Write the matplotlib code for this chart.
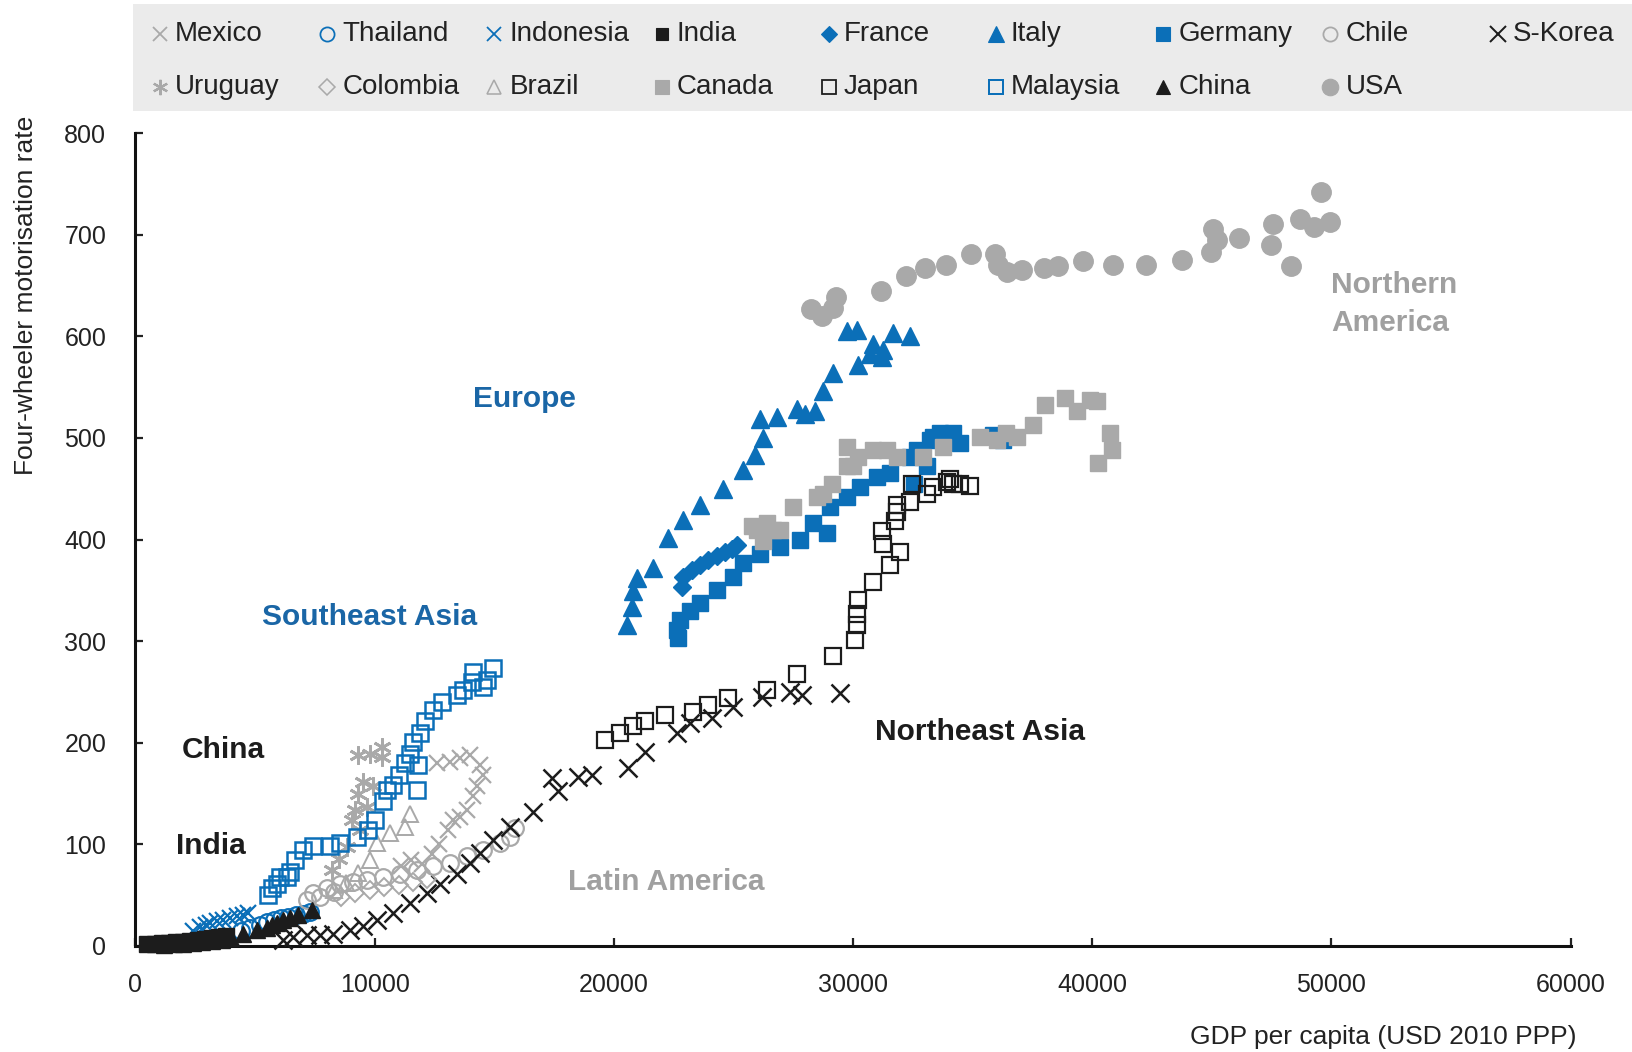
import matplotlib
matplotlib.use("Agg")
import matplotlib.pyplot as plt
from matplotlib import font_manager

# ---------------------------------------------------------------- data
mexico_x = [12600, 13150, 13570, 13990, 14410, 14550, 14270, 14130, 13850, 13570, 13290, 13080, 12700, 12400, 11970, 11540, 11100]
mexico_y = [180, 181, 185, 188, 178, 168, 157, 147, 134, 127, 124, 114, 100, 90, 80, 84, 78]

thailand_x = [4400, 4800, 5200, 5500, 5800, 6100, 6400, 6700, 7000, 7300]
thailand_y = [14, 17, 20, 23, 25, 27, 28, 30, 31, 33]

indonesia_x = [2400, 2700, 2950, 3120, 3400, 3680, 3960, 4240, 4510, 4720]
indonesia_y = [14, 18, 20, 22, 24, 25, 27, 29, 30, 32]

india_x = [500, 800, 1100, 1400, 1700, 2000, 2300, 2600, 2900, 3200, 3500, 3800]
india_y = [2, 2, 3, 3, 4, 4, 5, 6, 7, 8, 9, 10]

france_x = [22840, 22910, 23260, 23610, 23950, 24300, 24650, 24930, 25140]
france_y = [353, 363, 370, 375, 380, 384, 388, 391, 395]

italy_x = [20540, 20750, 20820, 20960, 21650, 22280, 22910, 23610, 24580, 25420, 25910, 26250, 26110, 26810,
           27650, 27990, 28410, 28760, 29180, 30220, 29740, 30160, 30850, 31270, 31690, 32390, 30710, 31200]
italy_y = [316, 334, 349, 362, 372, 401, 419, 434, 450, 468, 483, 500, 519, 521,
           529, 524, 527, 546, 564, 572, 605, 606, 593, 587, 603, 600, 583, 580]

germany_x = [22630, 22700, 22770, 23200, 23610, 24300, 25000, 25420, 26110, 26950, 27790, 28340, 28900, 29040, 29740,
             30290, 30990, 31550, 32390, 32540, 32660, 33080, 33220, 33360, 33640, 34200, 34470, 35870, 36290]
germany_y = [311, 303, 321, 330, 337, 350, 363, 377, 386, 393, 400, 416, 406, 432, 442,
             452, 462, 465, 481, 455, 488, 472, 498, 501, 505, 505, 495, 503, 498]

chile_x = [7160, 7440, 7700, 8000, 8300, 8550, 9110, 9670, 10370, 11060, 11760, 12460, 13150, 13850, 14550, 15240, 15660, 15890]
chile_y = [45, 52, 48, 57, 53, 61, 63, 65, 68, 71, 75, 78, 81, 88, 94, 101, 107, 116]

skorea_x = [6180, 6600, 7160, 7720, 8270, 8970, 9530, 10090, 10780, 11480, 12180, 12740, 13430, 13990, 14410, 14960,
            15660, 16640, 17400, 17680, 18520, 19080, 20610, 21310, 22630, 23190, 24100, 25000, 26190, 27370, 27860, 29460]
skorea_y = [6, 9, 11, 11, 12, 15, 19, 25, 32, 42, 52, 61, 71, 81, 91, 104,
            117, 132, 165, 152, 166, 168, 175, 191, 209, 219, 224, 235, 245, 250, 247, 249]

uruguay_x = [8200, 8500, 8830, 9040, 9180, 9390, 9320, 9530, 9670, 9950, 9320, 9810, 10300, 10300]
uruguay_y = [75, 85, 97, 124, 134, 114, 149, 161, 137, 157, 188, 189, 196, 186]

colombia_x = [8600, 9200, 9800, 10400, 11000, 11600, 12200]
colombia_y = [48, 52, 55, 58, 60, 63, 66]

brazil_x = [8300, 8800, 9300, 9800, 10100, 10650, 11270, 11480]
brazil_y = [55, 62, 72, 84, 101, 111, 117, 130]

canada_x = [25770, 25980, 26250, 26400, 26670, 26950, 27510, 28490, 28760, 29110, 29740, 29740, 30020, 30225, 30850, 31410,
            31830, 32940, 33780, 35310, 36010, 36400, 36850, 37540, 38030, 38870, 39360, 39910, 40190, 40750, 40820, 40260]
canada_y = [413, 409, 399, 416, 409, 409, 432, 442, 445, 455, 472, 491, 472, 481, 488, 488,
            481, 481, 491, 501, 498, 505, 501, 513, 532, 539, 527, 537, 536, 505, 488, 475]

japan_x = [19634, 20260, 20820, 21310, 22140, 23330, 23950, 24790, 26390, 27650, 29180, 30090, 30160, 30160, 30220, 30850,
           31550, 31970, 31200, 31270, 31760, 31830, 31830, 32390, 32460, 33080, 33360, 33920, 34060, 34200, 34470, 34890]
japan_y = [203, 209, 216, 221, 227, 230, 237, 244, 252, 268, 285, 301, 316, 327, 340, 358,
           375, 388, 408, 396, 418, 427, 434, 437, 455, 445, 452, 457, 460, 455, 455, 453]

malaysia_x = [5560, 5700, 5910, 6050, 6330, 6460, 6670, 7020, 7440, 8140, 8550, 9250, 9740, 10020, 10370, 10510, 11760,
              10780, 11000, 11270, 11830, 11480, 11620, 11900, 12110, 12460, 12810, 13430, 13710, 14060, 14130, 14550, 14690, 14960]
malaysia_y = [50, 57, 61, 68, 68, 73, 84, 94, 98, 98, 101, 107, 114, 124, 142, 153, 153,
              158, 168, 180, 178, 189, 201, 209, 221, 232, 240, 247, 252, 260, 270, 255, 262, 273]

china_x = [1200, 1600, 2000, 2400, 2800, 3200, 3600, 4000, 4510, 5070, 5490, 5700, 5910, 6180, 6460, 6810, 7370]
china_y = [1, 2, 2, 3, 4, 5, 6, 8, 12, 15, 17, 20, 22, 25, 27, 30, 35]

usa_x = [28260, 28690, 29170, 29300, 31180, 32220, 33000, 33870, 34920, 35920, 36050, 36440, 37050, 37970, 38580,
         39620, 40890, 42230, 43760, 44980, 45060, 45200, 46150, 47460, 47550, 48330, 48680, 49290, 49550, 49940]
usa_y = [627, 620, 628, 639, 645, 659, 667, 670, 681, 681, 670, 663, 665, 667, 669,
         674, 670, 670, 675, 683, 706, 695, 697, 690, 711, 669, 716, 708, 742, 713]

x_ticks = [0, 10000, 20000, 30000, 40000, 50000, 60000]
y_ticks = [0, 100, 200, 300, 400, 500, 600, 700, 800]

region_labels = ["Europe", "Southeast Asia", "China", "India", "Latin America", "Northeast Asia", "Northern\nAmerica"]
region_x = [16280, 9800, 3660, 3140, 22200, 35310, 49980]
region_y = [538, 324, 193, 98, 63, 210, 632]

# ---------------------------------------------------------------- styles
BLUE = "#0b6fb8"
GREY = "#a9a9a9"
BLACK = "#1c1c1c"
LBLUE = "#1a66a6"
LGREY = "#a0a0a0"
ASTER = (6, 2, 0)

names = {f.name for f in font_manager.fontManager.ttflist}
NARROW = "Liberation Sans Narrow" if "Liberation Sans Narrow" in names else "Liberation Sans"
plt.rcParams["font.family"] = ["Liberation Sans", "DejaVu Sans"]

# name, x, y, marker, size, face, edge, edgewidth
series = [
    ("Mexico", mexico_x, mexico_y, "x", 12, GREY, GREY, 1.6),
    ("Thailand", thailand_x, thailand_y, "o", 12, "none", BLUE, 1.6),
    ("Indonesia", indonesia_x, indonesia_y, "x", 12, BLUE, BLUE, 1.6),
    ("India", india_x, india_y, "s", 11, BLACK, BLACK, 1.0),
    ("France", france_x, france_y, "D", 9, BLUE, BLUE, 1.0),
    ("Italy", italy_x, italy_y, "^", 13, BLUE, BLUE, 1.0),
    ("Germany", germany_x, germany_y, "s", 12, BLUE, BLUE, 1.0),
    ("Chile", chile_x, chile_y, "o", 12, "none", GREY, 1.6),
    ("S-Korea", skorea_x, skorea_y, "x", 13, BLACK, BLACK, 1.8),
    ("Uruguay", uruguay_x, uruguay_y, ASTER, 13, GREY, GREY, 2.0),
    ("Colombia", colombia_x, colombia_y, "D", 9, "none", GREY, 1.4),
    ("Brazil", brazil_x, brazil_y, "^", 12, "none", GREY, 1.4),
    ("Canada", canada_x, canada_y, "s", 12, GREY, GREY, 1.0),
    ("Japan", japan_x, japan_y, "s", 12, "none", BLACK, 1.6),
    ("Malaysia", malaysia_x, malaysia_y, "s", 12, "none", BLUE, 1.8),
    ("China", china_x, china_y, "^", 12, BLACK, BLACK, 1.0),
    ("USA", usa_x, usa_y, "o", 14, GREY, GREY, 1.0),
]

legend_rows = [
    ["Mexico", "Thailand", "Indonesia", "India", "France", "Italy", "Germany", "Chile", "S-Korea"],
    ["Uruguay", "Colombia", "Brazil", "Canada", "Japan", "Malaysia", "China", "USA"],
]

# ---------------------------------------------------------------- figure
W, H = 1633, 1052
fig = plt.figure(figsize=(W / 100, H / 100), dpi=100)
ax = fig.add_axes([135.4 / W, 106.3 / H, 1435.2 / W, 812.4 / H])

for name, xs, ys, mk, ms, fc, ec, mew in series:
    ax.plot(xs, ys, linestyle="none", marker=mk, markersize=ms,
            markerfacecolor=fc, markeredgecolor=ec, markeredgewidth=mew,
            clip_on=False, zorder=3)

ax.set_xlim(0, 60000)
ax.set_ylim(0, 800)
ax.set_xticks(x_ticks)
ax.set_xticklabels([str(v) for v in x_ticks])
ax.set_yticks(y_ticks)
ax.set_yticklabels([str(v) for v in y_ticks])
ax.tick_params(direction="in", length=6, width=1.6, labelsize=18, colors="#222222")
ax.tick_params(axis="y", pad=21)
ax.tick_params(axis="x", pad=20)
for side in ("top", "right"):
    ax.spines[side].set_visible(False)
for side in ("left", "bottom"):
    ax.spines[side].set_linewidth(2.2)
    ax.spines[side].set_color("#111111")

ax.set_ylabel("Four-wheeler motorisation rate", family=NARROW, fontsize=19, color="#222222")
ax.yaxis.set_label_coords(-0.068, 0.80)
ax.set_xlabel("GDP per capita (USD 2010 PPP)", family=NARROW, fontsize=19, color="#222222", ha="right")
ax.xaxis.set_label_coords(1.004, -0.097)

label_colors = [LBLUE, LBLUE, BLACK, BLACK, LGREY, BLACK, LGREY]
for txt, lx, ly, col in zip(region_labels, region_x, region_y, label_colors):
    ha = "left" if "\n" in txt else "center"
    ax.text(lx, ly, txt, color=col, fontsize=21.5, fontweight="bold",
            ha=ha, va="center", linespacing=1.45, zorder=5)

# ---------------------------------------------------------------- legend panel
lg = fig.add_axes([133 / W, 1 - 111 / H, 1500 / W, 107 / H])
lg.set_facecolor("#ebebeb")
lg.set_xlim(0, 1500)
lg.set_ylim(107, 0)
lg.set_xticks([])
lg.set_yticks([])
for s in lg.spines.values():
    s.set_visible(False)

style = {s[0]: s for s in series}
col_x = [27 + 167.2 * i for i in range(9)]
row_y = [30, 83]
for r, row in enumerate(legend_rows):
    for c, name in enumerate(row):
        _, _, _, mk, ms, fc, ec, mew = style[name]
        lg.plot([col_x[c]], [row_y[r]], linestyle="none", marker=mk, markersize=ms * 0.85,
                markerfacecolor=fc, markeredgecolor=ec, markeredgewidth=mew * 0.8)
        lg.text(col_x[c] + 15, row_y[r], name, family=NARROW, fontsize=20,
                color="#222222", ha="left", va="center")

fig.savefig("out.png", dpi=100)
